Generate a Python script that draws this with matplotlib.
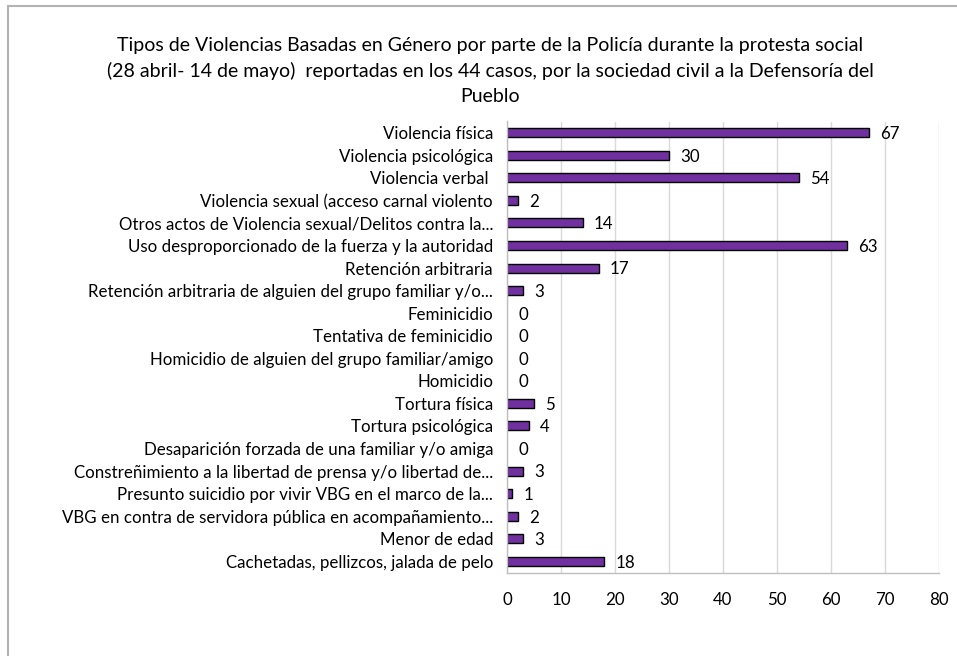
import matplotlib
matplotlib.use("Agg")
import matplotlib.pyplot as plt
from matplotlib.patches import Rectangle

categories = [
    "Violencia física",
    "Violencia psicológica",
    "Violencia verbal ",
    "Violencia sexual (acceso carnal violento",
    "Otros actos de Violencia sexual/Delitos contra la...",
    "Uso desproporcionado de la fuerza y la autoridad",
    "Retención arbitraria",
    "Retención arbitraria de alguien del grupo familiar y/o...",
    "Feminicidio",
    "Tentativa de feminicidio",
    "Homicidio de alguien del grupo familiar/amigo",
    "Homicidio",
    "Tortura física",
    "Tortura psicológica",
    "Desaparición forzada de una familiar y/o amiga",
    "Constreñimiento a la libertad de prensa y/o libertad de...",
    "Presunto suicidio por vivir VBG en el marco de la...",
    "VBG en contra de servidora pública en acompañamiento...",
    "Menor de edad",
    "Cachetadas, pellizcos, jalada de pelo",
]
values = [67, 30, 54, 2, 14, 63, 17, 3, 0, 0, 0, 0, 5, 4, 0, 3, 1, 2, 3, 18]
xticks = [0, 10, 20, 30, 40, 50, 60, 70, 80]
title = ("Tipos de Violencias Basadas en Género por parte de la Policía durante la protesta social\n"
         "(28 abril- 14 de mayo)  reportadas en los 44 casos, por la sociedad civil a la Defensoría del\n"
         "Pueblo")

plt.rcParams['font.family'] = ['Lato', 'DejaVu Sans']

W, H = 957, 656
fig = plt.figure(figsize=(W / 100, H / 100), dpi=100)

# outer frame
fig.patches.append(Rectangle((8 / W, -0.1), 1.2, 1 - 6 / H + 0.1, transform=fig.transFigure,
                             fill=False, edgecolor='#b3b3b3', linewidth=1.5))

ax = fig.add_axes([507 / W, 1 - 572.5 / H, (939 - 507) / W, (572.5 - 121.5) / H])
y = list(range(len(categories)))
lws = [1.0 if v > 0 else 0 for v in values]
ax.barh(y, values, height=0.4, color='#7030A0', edgecolor='black', linewidth=lws, zorder=3)
ax.set_ylim(len(categories) - 0.5, -0.5)
ax.set_xlim(0, 80)
ax.set_xticks(xticks)
ax.set_yticks(y)
ax.set_yticklabels(categories, fontsize=12.2)
ax.tick_params(axis='both', length=0, colors='black')
ax.tick_params(axis='x', pad=14, labelsize=12.2)
ax.tick_params(axis='y', pad=10)
ax.grid(axis='x', color='#d9d9d9', linewidth=1.0, zorder=0)
for s in ['top', 'right']:
    ax.spines[s].set_visible(False)
for s in ['left', 'bottom']:
    ax.spines[s].set_color('#bfbfbf')
    ax.spines[s].set_linewidth(1.0)
    ax.spines[s].set_zorder(4)

for yi, v in zip(y, values):
    ax.annotate(str(v), (v, yi), xytext=(8, -1), textcoords='offset points',
                va='center', ha='left', fontsize=12.2, color='black')

fig.text(490 / W, 1 - 71 / H, title, ha='center', va='center', fontsize=14,
         linespacing=1.56)

fig.savefig('out.png', dpi=100)
